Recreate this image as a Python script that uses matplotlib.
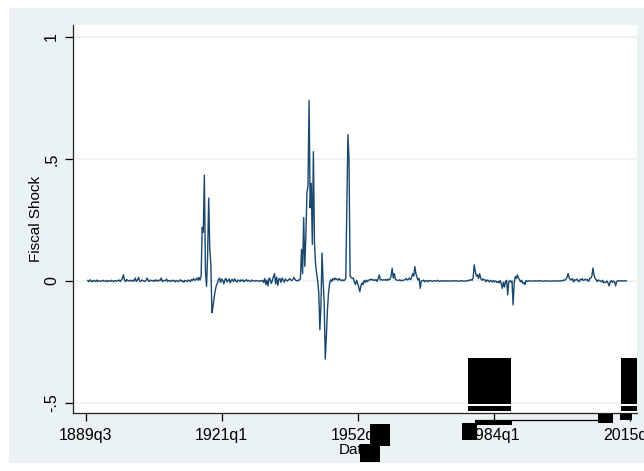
import numpy as np
import matplotlib
matplotlib.use("Agg")
from matplotlib import pyplot as plt
from matplotlib.patches import Rectangle

plt.rcParams['font.family'] = ['Liberation Sans', 'DejaVu Sans']

# quarterly fiscal shock, 1890q1 .. 2014q4, one row = 5 years (20 quarters)
first_year = 1890
shock_rows = [
    [0.002, -0.003, 0.005, 0.001, -0.004, 0.003, 0.000, -0.002, 0.004, -0.003, 0.002, 0.000, -0.002, 0.001, 0.003, -0.001, 0.000, 0.002, -0.003, 0.001],
    [0.001, -0.002, 0.003, 0.000, -0.003, 0.002, 0.001, -0.001, 0.002, 0.004, -0.002, 0.003, 0.010, 0.025, 0.004, -0.003, 0.006, 0.002, -0.001, 0.003],
    [0.002, -0.001, 0.004, 0.000, 0.012, -0.002, 0.003, 0.015, 0.001, -0.003, 0.004, 0.002, 0.000, -0.002, 0.003, 0.012, 0.001, -0.002, 0.004, 0.002],
    [0.000, 0.003, -0.002, 0.005, 0.001, -0.001, 0.004, 0.002, 0.012, -0.002, 0.003, 0.000, 0.002, 0.008, -0.003, 0.002, 0.001, -0.002, 0.003, 0.000],
    [0.003, -0.004, 0.002, 0.000, -0.003, 0.002, 0.005, -0.002, 0.001, -0.005, 0.003, 0.000, -0.002, 0.004, 0.001, -0.003, 0.006, 0.002, 0.010, 0.003],
    [0.005, 0.012, 0.003, 0.015, 0.004, 0.020, 0.220, 0.200, 0.434, 0.040, -0.022, 0.100, 0.340, 0.135, 0.070, -0.130, -0.105, -0.070, -0.040, -0.020],
    [-0.010, 0.005, 0.012, -0.006, 0.008, 0.003, -0.012, 0.006, 0.010, -0.004, 0.002, 0.008, -0.008, 0.004, 0.006, -0.002, 0.009, 0.001, -0.005, 0.004],
    [0.003, -0.002, 0.005, 0.000, 0.004, -0.003, 0.002, 0.006, -0.001, 0.003, 0.000, -0.002, 0.004, 0.001, 0.000, -0.001, 0.002, 0.000, 0.001, -0.002],
    [0.001, 0.000, 0.003, -0.006, 0.010, -0.015, 0.004, -0.020, 0.012, 0.006, -0.010, 0.002, 0.018, 0.030, -0.012, 0.015, -0.018, 0.008, 0.010, -0.006],
    [0.012, 0.004, -0.005, 0.008, 0.003, 0.000, 0.005, 0.010, 0.004, 0.002, 0.006, 0.015, 0.006, 0.002, 0.000, 0.004, 0.003, 0.010, 0.130, 0.030],
    [0.260, 0.060, 0.180, 0.360, 0.390, 0.740, 0.300, 0.400, 0.150, 0.530, 0.160, 0.070, 0.030, 0.000, -0.050, -0.200, -0.100, 0.115, 0.000, -0.090],
    [-0.320, -0.230, -0.120, -0.050, -0.010, 0.005, -0.002, 0.010, 0.004, 0.012, 0.006, 0.008, 0.003, 0.010, 0.004, 0.002, 0.005, 0.001, 0.004, 0.010],
    [0.310, 0.600, 0.500, 0.020, 0.015, 0.010, 0.012, -0.005, -0.015, 0.003, -0.010, -0.025, -0.044, -0.020, -0.008, -0.015, 0.002, -0.006, 0.004, -0.003],
    [0.002, 0.006, 0.004, 0.008, 0.003, 0.005, 0.002, 0.006, -0.002, 0.010, 0.025, 0.004, 0.006, 0.003, 0.005, 0.004, 0.006, 0.002, 0.008, 0.004],
    [0.008, 0.020, 0.052, 0.012, 0.030, 0.006, 0.004, 0.003, 0.002, 0.005, 0.001, 0.003, 0.002, 0.004, 0.006, 0.010, 0.004, 0.007, 0.012, 0.005],
    [0.015, 0.030, 0.020, 0.059, 0.030, 0.015, 0.004, 0.010, -0.030, 0.000, 0.002, 0.003, -0.004, 0.002, 0.001, -0.003, 0.002, 0.000, 0.001, -0.001],
    [0.000, 0.002, -0.001, 0.000, 0.003, 0.000, -0.002, 0.001, 0.000, 0.000, 0.002, -0.001, 0.000, 0.000, 0.001, 0.000, -0.001, 0.000, 0.002, 0.000],
    [0.000, 0.001, 0.000, -0.001, 0.000, 0.000, 0.002, 0.000, 0.000, -0.001, 0.000, 0.001, 0.000, 0.004, 0.002, 0.006, 0.003, 0.012, 0.066, 0.040],
    [0.020, 0.025, 0.010, 0.030, 0.012, 0.003, 0.008, 0.004, 0.005, -0.003, 0.004, 0.002, -0.004, 0.003, 0.001, -0.005, 0.002, -0.003, 0.000, -0.006],
    [-0.002, -0.008, 0.002, -0.010, -0.030, -0.005, -0.025, -0.002, 0.003, -0.057, -0.003, 0.002, -0.004, 0.000, -0.098, -0.010, 0.018, 0.010, 0.025, 0.012],
    [0.005, -0.004, 0.003, -0.010, -0.006, -0.015, 0.002, -0.002, 0.000, 0.001, 0.000, 0.000, -0.001, 0.000, 0.001, 0.000, 0.000, 0.000, 0.002, 0.000],
    [0.000, 0.000, -0.001, 0.000, 0.000, 0.001, 0.000, 0.000, 0.000, -0.001, 0.000, 0.000, 0.000, 0.001, 0.000, 0.000, 0.000, 0.000, 0.002, 0.000],
    [0.002, 0.004, 0.003, 0.008, 0.015, 0.030, 0.012, 0.006, 0.004, 0.010, -0.004, 0.005, 0.003, 0.008, 0.002, -0.003, 0.006, 0.004, 0.010, 0.002],
    [0.004, 0.008, 0.003, 0.006, -0.002, 0.010, 0.012, 0.020, 0.053, 0.025, 0.010, 0.006, -0.003, 0.004, 0.002, 0.000, -0.004, 0.003, -0.008, -0.004],
    [-0.006, 0.000, -0.008, -0.020, -0.004, 0.002, -0.006, 0.000, -0.003, -0.020, -0.002, 0.001, 0.000, 0.000, 0.002, 0.000, 0.000, 0.001, 0.000, 0.000],
]

x_ticks = ["1889q3", "1921q1", "1952q3", "1984q1", "2015q3"]
y_ticks = [-0.5, 0, 0.5, 1]
y_tick_labels = ["-.5", "0", ".5", "1"]


def quarter_num(label):
    # Stata style quarterly date: quarters since 1960q1
    return (int(label[:4]) - 1960) * 4 + int(label[-1]) - 1


shock = np.concatenate([np.array(r) for r in shock_rows])
dates = quarter_num("%dq1" % first_year) + np.arange(len(shock))

W, H = 644, 471
fig = plt.figure(figsize=(W / 100, H / 100), dpi=100)
fig.patch.set_facecolor("white")


def px_rect(x0, y0, x1, y1, **kw):
    return Rectangle((x0 / W, 1 - y1 / H), (x1 - x0) / W, (y1 - y0) / H,
                     transform=fig.transFigure, **kw)


# stata s2color graph region
fig.add_artist(px_rect(9, 8, 644, 463, facecolor="#EAF2F3", edgecolor="none", zorder=-5))

ax = fig.add_axes([73 / W, 1 - 413 / H, (637 - 73) / W, (413 - 25) / H])
ax.set_facecolor("white")
ax.plot(dates, shock, color="#1A476F", lw=1.0)

ax.set_xlim(quarter_num("1889q3") - 11.7, quarter_num("1889q3") + 510.8)
ax.set_ylim(-0.541, 1.049)

ax.set_yticks(y_ticks)
ax.set_yticklabels(y_tick_labels, rotation=90, va="center")
ax.set_xticks([quarter_num(t) for t in x_ticks])
ax.set_xticklabels(x_ticks)
ax.tick_params(axis="both", labelsize=11.5, length=6, width=0.9, colors="black")
ax.tick_params(axis="y", pad=4)
ax.tick_params(axis="x", pad=5)

ax.grid(axis="y", color="#EAF2F3", lw=1.2)
ax.set_axisbelow(True)
for s in ["top", "right"]:
    ax.spines[s].set_visible(False)
for s in ["left", "bottom"]:
    ax.spines[s].set_linewidth(0.9)
    ax.spines[s].set_color("#222222")

ax.set_ylabel("Fiscal Shock", fontsize=11, labelpad=1)
ax.set_xlabel("Date", fontsize=11, labelpad=0)

# rendering glitches present in the source image
glitches = [
    (468, 358, 511, 404), (468, 405.5, 511, 411),
    (621, 358, 637, 404), (621, 405.5, 637, 411),
    (475, 420, 512, 425), (598, 414, 613, 423), (620, 414, 632, 420),
    (462, 423, 477, 440), (370, 424, 390, 446), (360, 444, 380, 462),
]
for g in glitches:
    fig.add_artist(px_rect(*g, facecolor="black", edgecolor="none", zorder=10))
fig.add_artist(plt.Line2D([475 / W, 597 / W], [1 - 420 / H, 1 - 420 / H],
                          transform=fig.transFigure, color="black", lw=0.9, zorder=10))

fig.savefig("out.png", dpi=100)
